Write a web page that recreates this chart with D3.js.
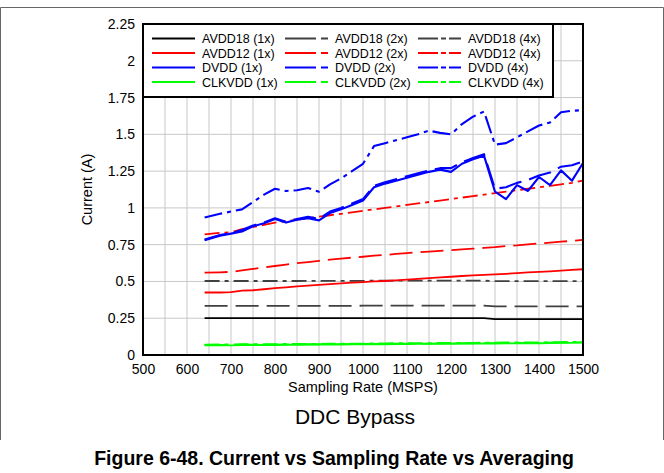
<!DOCTYPE html>
<html>
<head>
<meta charset="utf-8">
<script src="https://cdn.jsdelivr.net/npm/d3@7"></script>
<style>
  body { margin: 0; background: #fff; }
  svg { display: block; font-family: "Liberation Sans", Arial, sans-serif; }
</style>
</head>
<body>
<svg id="svg" width="664" height="473"></svg>
<script>
// Sampling rate (MSPS)
var samplingRate = [640,675,700,725,750,775,800,825,850,875,900,925,950,975,1000,1025,1050,1075,1100,1125,1150,1175,1200,1225,1250,1275,1300,1325,1350,1375,1400,1425,1450,1475,1500];

// Current (A) per rail and averaging
var avdd18_1x = [0.250,0.250,0.250,0.250,0.251,0.251,0.251,0.251,0.250,0.250,0.250,0.250,0.250,0.251,0.251,0.251,0.251,0.251,0.251,0.251,0.251,0.251,0.251,0.251,0.251,0.250,0.244,0.244,0.244,0.244,0.244,0.244,0.244,0.244,0.244];
var avdd18_2x = [0.334,0.334,0.334,0.334,0.334,0.334,0.334,0.334,0.334,0.334,0.334,0.334,0.334,0.334,0.335,0.335,0.335,0.335,0.335,0.335,0.335,0.335,0.335,0.335,0.335,0.335,0.331,0.331,0.331,0.331,0.331,0.331,0.331,0.331,0.331];
var avdd18_4x = [0.503,0.503,0.503,0.503,0.503,0.503,0.503,0.503,0.503,0.504,0.504,0.504,0.504,0.504,0.504,0.505,0.505,0.505,0.505,0.505,0.505,0.505,0.505,0.505,0.505,0.505,0.502,0.502,0.502,0.502,0.502,0.502,0.502,0.502,0.502];

var avdd12_1x = [0.425,0.425,0.427,0.437,0.440,0.447,0.455,0.460,0.466,0.472,0.477,0.482,0.487,0.492,0.496,0.500,0.503,0.507,0.512,0.517,0.522,0.527,0.532,0.537,0.541,0.545,0.548,0.552,0.556,0.561,0.565,0.569,0.574,0.578,0.583];
var avdd12_2x = [0.560,0.562,0.565,0.575,0.585,0.595,0.605,0.615,0.625,0.632,0.640,0.648,0.655,0.662,0.668,0.675,0.680,0.687,0.693,0.698,0.703,0.708,0.713,0.718,0.723,0.728,0.733,0.740,0.745,0.752,0.758,0.764,0.770,0.776,0.782];
var avdd12_4x = [0.820,0.830,0.835,0.855,0.870,0.885,0.900,0.910,0.920,0.930,0.940,0.950,0.960,0.970,0.980,0.990,1.000,1.010,1.020,1.030,1.040,1.050,1.060,1.070,1.080,1.090,1.100,1.110,1.120,1.130,1.140,1.150,1.160,1.170,1.185];

var dvdd_1x = [0.780,0.810,0.825,0.840,0.875,0.895,0.925,0.900,0.920,0.930,0.915,0.965,0.990,1.020,1.050,1.140,1.165,1.185,1.205,1.225,1.245,1.260,1.245,1.300,1.330,1.355,1.110,1.060,1.155,1.115,1.210,1.155,1.255,1.185,1.305];
var dvdd_2x = [0.785,0.815,0.830,0.850,0.880,0.900,0.930,0.905,0.925,0.940,0.925,0.975,1.000,1.030,1.060,1.150,1.175,1.195,1.215,1.235,1.255,1.270,1.270,1.310,1.340,1.365,1.130,1.140,1.170,1.190,1.220,1.240,1.280,1.290,1.315];
var dvdd_4x = [0.935,0.960,0.975,0.990,1.040,1.090,1.130,1.115,1.120,1.135,1.110,1.160,1.200,1.250,1.300,1.420,1.440,1.460,1.480,1.500,1.525,1.510,1.500,1.570,1.620,1.655,1.430,1.440,1.480,1.520,1.560,1.580,1.650,1.660,1.665];

var clkvdd_1x = [0.065,0.066,0.066,0.067,0.067,0.068,0.068,0.069,0.069,0.070,0.070,0.071,0.071,0.072,0.072,0.073,0.073,0.074,0.074,0.075,0.075,0.076,0.076,0.077,0.077,0.078,0.078,0.079,0.079,0.080,0.080,0.081,0.082,0.083,0.084];
var clkvdd_2x = [0.068,0.069,0.069,0.070,0.070,0.071,0.071,0.072,0.072,0.073,0.073,0.074,0.074,0.075,0.075,0.076,0.076,0.077,0.077,0.078,0.078,0.079,0.079,0.080,0.080,0.081,0.081,0.082,0.082,0.083,0.083,0.084,0.085,0.086,0.087];
var clkvdd_4x = [0.071,0.072,0.072,0.073,0.073,0.074,0.074,0.075,0.075,0.076,0.076,0.077,0.077,0.078,0.078,0.079,0.079,0.080,0.080,0.081,0.081,0.082,0.082,0.083,0.083,0.084,0.084,0.085,0.085,0.086,0.086,0.087,0.088,0.089,0.090];

var xTicks = [500,600,700,800,900,1000,1100,1200,1300,1400,1500];
var yTicks = [0,0.25,0.5,0.75,1,1.25,1.5,1.75,2,2.25];

var series = [
  {name:"AVDD18 (1x)", values:avdd18_1x, color:"#000000", dash:null},
  {name:"AVDD18 (2x)", values:avdd18_2x, color:"#404040", dash:"23,8"},
  {name:"AVDD18 (4x)", values:avdd18_4x, color:"#404040", dash:"15,5,4,5"},
  {name:"AVDD12 (1x)", values:avdd12_1x, color:"#ff0000", dash:null},
  {name:"AVDD12 (2x)", values:avdd12_2x, color:"#ff0000", dash:"23,8"},
  {name:"AVDD12 (4x)", values:avdd12_4x, color:"#ff0000", dash:"15,5,4,5"},
  {name:"DVDD (1x)", values:dvdd_1x, color:"#0000ff", dash:null},
  {name:"DVDD (2x)", values:dvdd_2x, color:"#0000ff", dash:"23,8"},
  {name:"DVDD (4x)", values:dvdd_4x, color:"#0000ff", dash:"18,5,4,5"},
  {name:"CLKVDD (1x)", values:clkvdd_1x, color:"#00ff00", dash:null},
  {name:"CLKVDD (2x)", values:clkvdd_2x, color:"#00ff00", dash:"23,8"},
  {name:"CLKVDD (4x)", values:clkvdd_4x, color:"#00ff00", dash:"15,5,4,5"}
];

var svg = d3.select("#svg");

// outer frame (top line + sides)
svg.append("path")
  .attr("d", "M0.5,440 V7.5 H663.5 V440")
  .attr("fill", "none").attr("stroke", "#666").attr("stroke-width", 1);

var pLeft = 143, pRight = 583, pTop = 24, pBottom = 355;

var scaleX = d3.scaleLinear().domain([500,1500]).range([pLeft,pRight]);
var scaleY = d3.scaleLinear().domain([0,2.25]).range([pBottom,pTop]);

// gridlines
var gGrid = svg.append("g");
gGrid.selectAll("line.v")
  .data(d3.range(550,1500,50))
  .enter().append("line")
  .attr("x1", function(d){ return scaleX(d); })
  .attr("x2", function(d){ return scaleX(d); })
  .attr("y1", pTop).attr("y2", pBottom)
  .attr("stroke", "#c8c8c8").attr("stroke-width", 1);
gGrid.selectAll("line.h")
  .data(yTicks.slice(1,-1))
  .enter().append("line")
  .attr("x1", pLeft).attr("x2", pRight)
  .attr("y1", function(d){ return scaleY(d); })
  .attr("y2", function(d){ return scaleY(d); })
  .attr("stroke", "#c8c8c8").attr("stroke-width", 1);

// axes
var axisX = d3.axisBottom(scaleX).tickValues(xTicks).tickSize(0).tickPadding(9).tickFormat(d3.format("d"));
var gAxisX = svg.append("g").attr("transform", "translate(0," + pBottom + ")").call(axisX);
gAxisX.select(".domain").remove();
gAxisX.selectAll("text").style("font-size", "14px").attr("fill", "#000").style("font-family", "Liberation Sans, Arial, sans-serif");

var axisY = d3.axisLeft(scaleY).tickValues(yTicks).tickSize(0).tickPadding(8).tickFormat(function(d){ return String(d); });
var gAxisY = svg.append("g").attr("transform", "translate(" + pLeft + ",0)").call(axisY);
gAxisY.select(".domain").remove();
gAxisY.selectAll("text").style("font-size", "14px").attr("fill", "#000").style("font-family", "Liberation Sans, Arial, sans-serif");

// lines
var line = d3.line()
  .x(function(d, i){ return scaleX(samplingRate[i]); })
  .y(function(d){ return scaleY(d); });

var gLines = svg.append("g");
series.forEach(function(s){
  gLines.append("path")
    .attr("d", line(s.values))
    .attr("fill", "none")
    .attr("stroke", s.color)
    .attr("stroke-width", s.color == "#0000ff" ? 2.1 : 1.8)
    .attr("stroke-dasharray", s.dash)
    .attr("stroke-linejoin", "round");
});

// plot border
svg.append("rect")
  .attr("x", pLeft).attr("y", pTop)
  .attr("width", pRight-pLeft).attr("height", pBottom-pTop)
  .attr("fill", "none").attr("stroke", "#000").attr("stroke-width", 2);

// legend
var legend = svg.append("g");
legend.append("rect")
  .attr("x", pLeft).attr("y", pTop)
  .attr("width", 410).attr("height", 73)
  .attr("fill", "#fff").attr("stroke", "#000").attr("stroke-width", 2);
var colX = [152, 285, 418];
var rowY = [38.5, 53, 67.5, 82];
var legendDash = {"23,8":"31,5", "15,5,4,5":"20,3,5,3", "18,5,4,5":"20,3,5,3"};
series.forEach(function(s, i){
  var col = i % 3, row = Math.floor(i / 3);
  legend.append("line")
    .attr("x1", colX[col]).attr("x2", colX[col] + 43)
    .attr("y1", rowY[row]).attr("y2", rowY[row])
    .attr("stroke", s.color).attr("stroke-width", 2)
    .attr("stroke-dasharray", s.dash ? legendDash[s.dash] : null);
  legend.append("text")
    .attr("x", colX[col] + 50).attr("y", rowY[row])
    .attr("dy", "0.36em")
    .style("font-size", "12.5px")
    .text(s.name);
});

// axis titles
svg.append("text")
  .attr("x", (pLeft+pRight)/2).attr("y", 392)
  .attr("text-anchor", "middle")
  .style("font-size", "14.5px")
  .text("Sampling Rate (MSPS)");

svg.append("text")
  .attr("transform", "translate(92," + (pTop+pBottom)/2 + ") rotate(-90)")
  .attr("text-anchor", "middle")
  .style("font-size", "14.5px")
  .text("Current (A)");

svg.append("text")
  .attr("x", 355).attr("y", 424)
  .attr("text-anchor", "middle")
  .style("font-size", "21px")
  .text("DDC Bypass");

svg.append("text")
  .attr("x", 334).attr("y", 465)
  .attr("text-anchor", "middle")
  .style("font-size", "19.5px")
  .style("font-weight", "bold")
  .text("Figure 6-48. Current vs Sampling Rate vs Averaging");
</script>
</body>
</html>
